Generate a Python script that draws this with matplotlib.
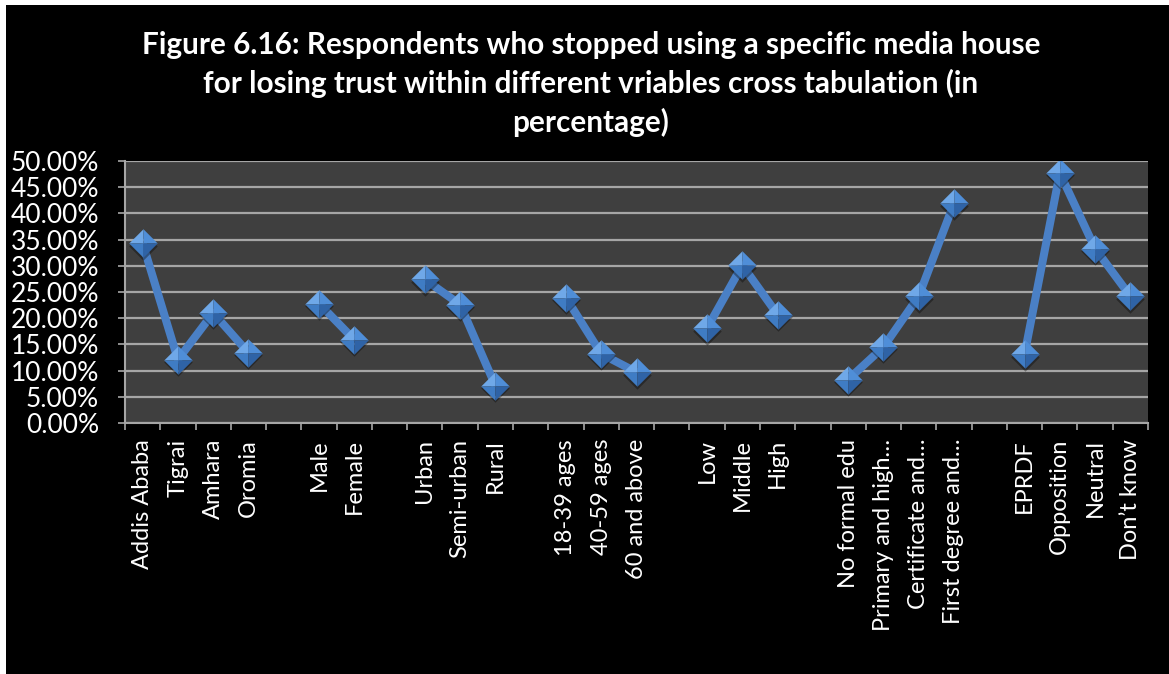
import numpy as np
import matplotlib
matplotlib.use("Agg")
import matplotlib.pyplot as plt
from matplotlib.path import Path
from matplotlib.patches import Rectangle
from matplotlib.ticker import FixedLocator, PercentFormatter

# Category labels (empty strings are spacer slots between variable groups)
categories = [
    "Addis Ababa", "Tigrai", "Amhara", "Oromia", "",
    "Male", "Female", "",
    "Urban", "Semi-urban", "Rural", "",
    "18-39 ages", "40-59 ages", "60 and above", "",
    "Low", "Middle", "High", "",
    "No formal edu", "Primary and high\u2026", "Certificate and\u2026", "First degree and\u2026", "",
    "EPRDF", "Opposition", "Neutral", "Don\u2019t know",
]
# Percentages; None marks a spacer slot
values = [
    34.3, 12.1, 21.0, 13.4, None,
    22.8, 15.9, None,
    27.4, 22.6, 7.1, None,
    23.9, 13.2, 9.7, None,
    18.1, 30.1, 20.7, None,
    8.3, 14.5, 24.2, 41.9, None,
    13.1, 47.7, 33.3, 24.2,
]
y_ticks = [0, 5, 10, 15, 20, 25, 30, 35, 40, 45, 50]

title = ("Figure 6.16: Respondents who stopped using a specific media house\n"
         "for losing trust within different vriables cross tabulation (in\n"
         "percentage)")

W, H = 1169, 674
fig = plt.figure(figsize=(W / 100, H / 100), dpi=100, facecolor="white")
fig.patches.append(Rectangle((6 / W, 0), 1, 1 - 5 / H, transform=fig.transFigure,
                             facecolor="black", edgecolor="none", zorder=-10))

ax = fig.add_axes([125 / W, 1 - 423 / H, (1148 - 125) / W, (423 - 161) / H])
ax.set_zorder(5)
ax.set_facecolor("#3f3f3f")

x = np.arange(len(categories))
y = np.array([np.nan if v is None else v for v in values], dtype=float)

# Connecting line (breaks at spacer slots)
ax.plot(x, y, color="#4a80c6", lw=5.8, solid_capstyle="butt", zorder=3)

# Pyramid-style diamond markers built from four shaded facets
facets = [
    ([(0, 0), (-1, 0), (0, 1), (0, 0)], "#6fa8e8"),   # upper left
    ([(0, 0), (0, 1), (1, 0), (0, 0)], "#4f8ed8"),    # upper right
    ([(0, 0), (-1, 0), (0, -1), (0, 0)], "#3f7cc4"),  # lower left
    ([(0, 0), (0, -1), (1, 0), (0, 0)], "#2f63a6"),   # lower right
]
mask = ~np.isnan(y)
ms = 20.5
# soft shadow
shadow = Path([(-1, 0), (0, 1), (1, 0), (0, -1), (-1, 0)])
ax.plot(x[mask], y[mask] - 0.45, linestyle="none", marker=shadow, ms=ms,
        markerfacecolor="black", markeredgecolor="none", alpha=0.35, zorder=4)
for verts, col in facets:
    p = Path(verts + [(-1, -1), (1, 1)],
             [Path.MOVETO, Path.LINETO, Path.LINETO, Path.CLOSEPOLY,
              Path.MOVETO, Path.MOVETO])
    ax.plot(x[mask], y[mask], linestyle="none", marker=p, ms=ms,
            markerfacecolor=col, markeredgecolor="none", zorder=5)

ax.set_xlim(-0.5, len(categories) - 0.5)
ax.set_ylim(0, 50)

# y axis
ax.yaxis.set_major_locator(FixedLocator(y_ticks))
ax.yaxis.set_major_formatter(PercentFormatter(decimals=2))
ax.grid(axis="y", color="#a6a6a6", lw=1.6, zorder=1)
ax.tick_params(axis="y", colors="#a6a6a6", length=5.3, width=1.2, direction="out",
               labelcolor="white", labelsize=19, pad=13.5)

# x axis: tick marks between categories, labels at category centres
ax.xaxis.set_major_locator(FixedLocator(np.arange(-0.5, len(categories), 1.0)))
ax.xaxis.set_minor_locator(FixedLocator(x))
ax.set_xticklabels([], minor=False)
ax.set_xticklabels(categories, minor=True, rotation=90, va="top", ha="center")
ax.tick_params(axis="x", which="major", colors="#a6a6a6", length=5.3, width=1.2,
               direction="out")
ax.tick_params(axis="x", which="minor", length=0, labelcolor="white",
               labelsize=17, pad=11.5)

for side in ("top", "right"):
    ax.spines[side].set_visible(False)
for side in ("left", "bottom"):
    ax.spines[side].set_color("#a6a6a6")
    ax.spines[side].set_linewidth(1.5)

for lab in ax.get_yticklabels() + ax.get_xticklabels(minor=True):
    lab.set_family("Lato")

fig.text(591 / W, 1 - 31 / H, title, ha="center", va="top", color="white",
         fontsize=21.4, fontweight="bold", family="Lato", linespacing=1.4)

fig.savefig("out.png", dpi=100, facecolor=fig.get_facecolor())
